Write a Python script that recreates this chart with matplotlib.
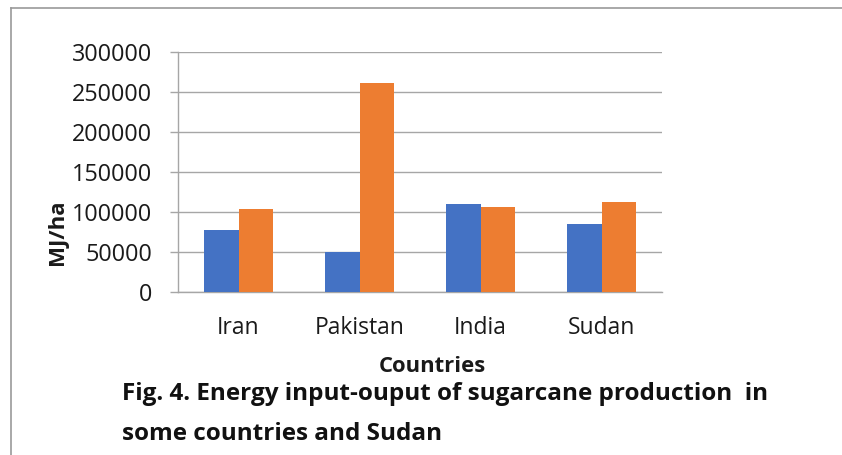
import numpy as np
import matplotlib
matplotlib.use("Agg")
import matplotlib.pyplot as plt
from matplotlib.lines import Line2D

# values (MJ/ha)
countries = ["Iran", "Pakistan", "India", "Sudan"]
energy_input = [77500, 49600, 110000, 85500]
energy_output = [104200, 261500, 106300, 112000]
yticks = [0, 50000, 100000, 150000, 200000, 250000, 300000]

W, H = 842, 455
plt.rcParams['font.family'] = ['Open Sans', 'DejaVu Sans']

fig = plt.figure(figsize=(W / 100, H / 100), dpi=100)
ax = fig.add_axes([178 / W, 1 - 292 / H, (662 - 178) / W, (292 - 52) / H])

x = np.arange(len(countries))
bw = 0.284
ax.bar(x - bw / 2, energy_input, bw, color="#4472C4", zorder=3)
ax.bar(x + bw / 2, energy_output, bw, color="#ED7D31", zorder=3)

ax.set_xlim(-0.5, len(countries) - 0.5)
ax.set_ylim(0, 300000)
ax.set_yticks(yticks)
ax.set_yticklabels([str(v) for v in yticks])
ax.set_xticks(x)
ax.set_xticklabels(countries)

grid_c = "#a6a6a6"
ax.yaxis.grid(True, color=grid_c, linewidth=1.0, zorder=0)
for s in ["top", "right"]:
    ax.spines[s].set_visible(False)
ax.spines["left"].set_color(grid_c)
ax.spines["bottom"].set_color(grid_c)
ax.spines["left"].set_linewidth(1.0)
ax.spines["bottom"].set_linewidth(1.0)
ax.tick_params(axis="y", length=5.5, color=grid_c, width=1.0, pad=13, labelsize=16.8, labelcolor="#1a1a1a")
ax.tick_params(axis="x", length=0, pad=17, labelsize=16.5, labelcolor="#1a1a1a")

fig.text(432 / W, 1 - 372 / H, "Countries", ha="center", va="baseline",
         fontsize=15.8, fontweight="bold", color="#1a1a1a")
fig.text(57 / W, 1 - 232 / H, "MJ/ha", ha="center", va="center", rotation=90,
         fontsize=16, fontweight="bold", color="#1a1a1a")
fig.text(122 / W, 1 - 400 / H, "Fig. 4. Energy input-ouput of sugarcane production  in",
         ha="left", va="baseline", fontsize=17.5, fontweight="bold", color="#111111")
fig.text(122 / W, 1 - 440 / H, "some countries and Sudan",
         ha="left", va="baseline", fontsize=17.5, fontweight="bold", color="#111111")

# frame around the figure area (left and top edges)
fig.add_artist(Line2D([11 / W, 11 / W], [0, 1 - 8 / H], color="#999999", linewidth=1.2))
fig.add_artist(Line2D([11 / W, 1], [1 - 8 / H, 1 - 8 / H], color="#999999", linewidth=1.2))

fig.savefig("out.png", dpi=100)
